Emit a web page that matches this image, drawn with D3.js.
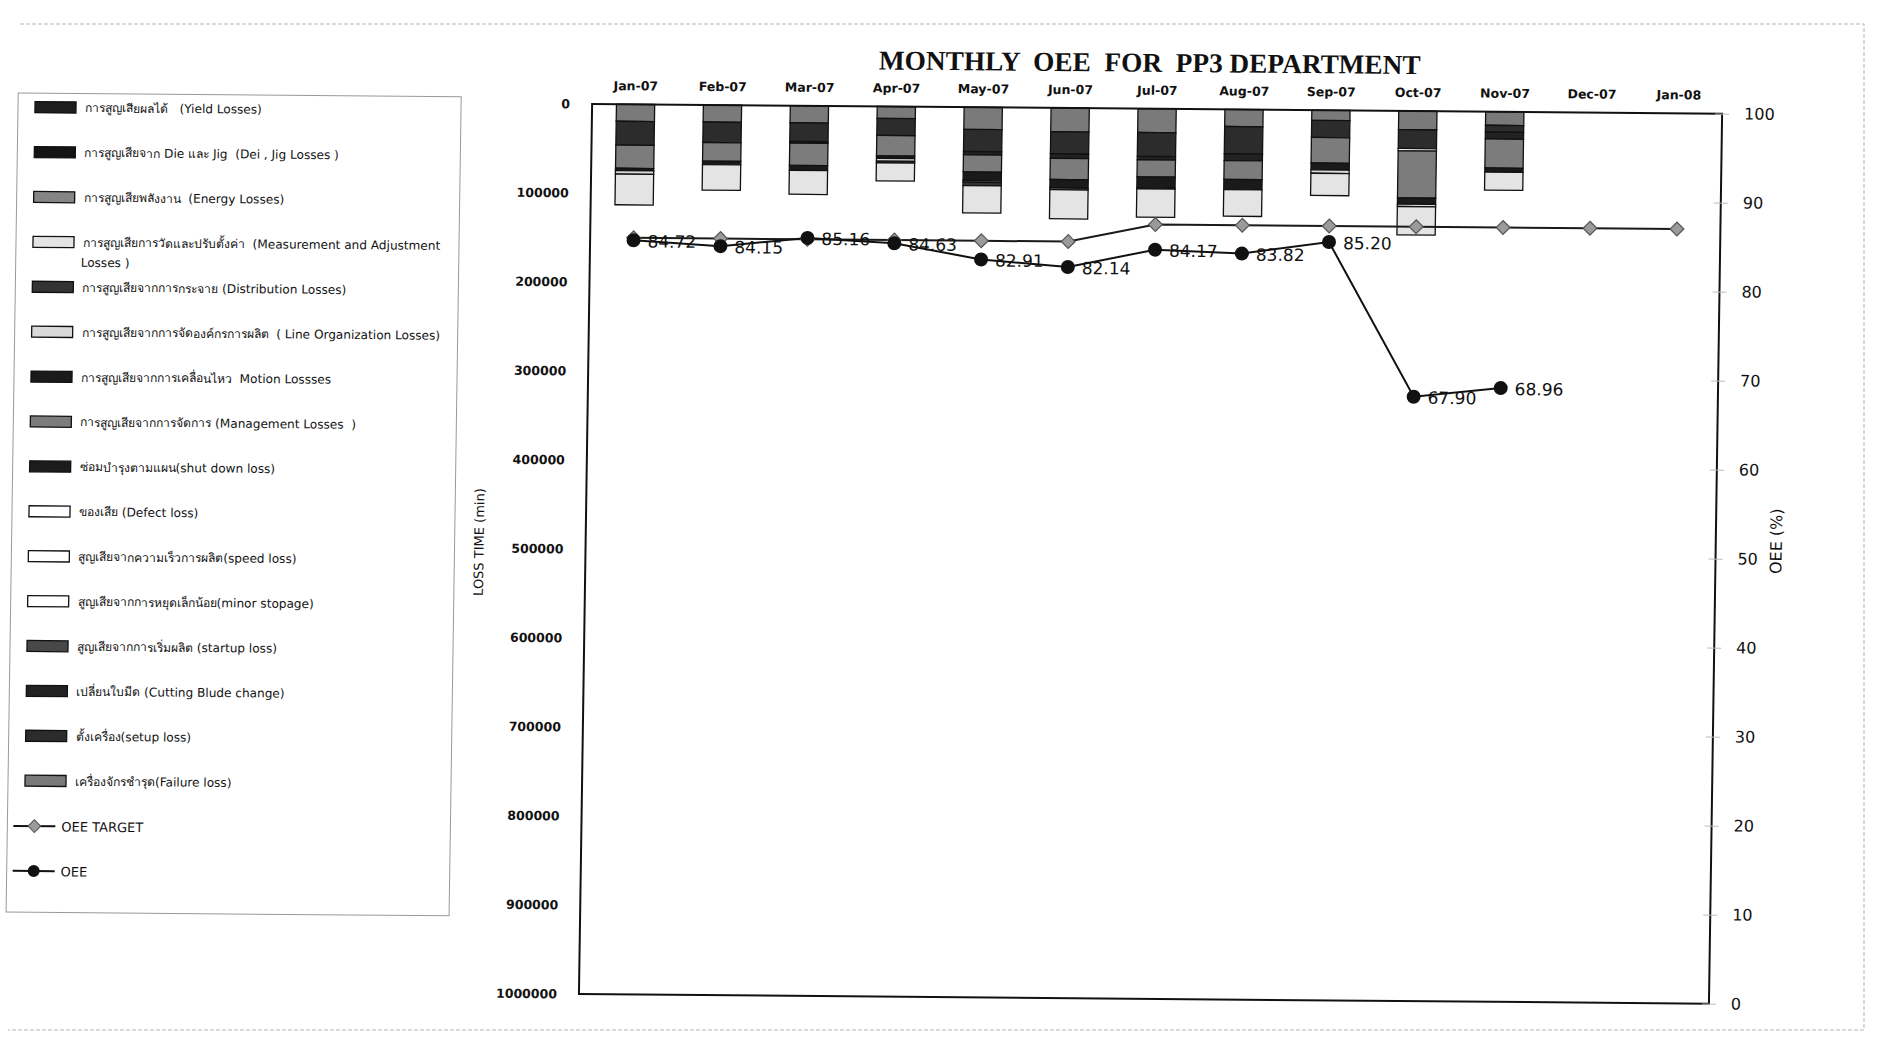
<!DOCTYPE html>
<html>
<head>
<meta charset="utf-8">
<script src="https://cdn.jsdelivr.net/npm/d3@7"></script>
<style>
  body { margin: 0; background: #fff; }
  svg { display: block; }
  .title { font-family: "Liberation Serif", "Times New Roman", serif; font-weight: bold; font-size: 27.3px; fill: #111; }
  .month-axis text, .loss-axis text { font-family: "DejaVu Sans", sans-serif; font-weight: bold; font-size: 12.5px; fill: #111; }
  .oee-axis text { font-family: "DejaVu Sans", sans-serif; font-size: 16px; fill: #111; }
  .axis-title { font-family: "DejaVu Sans", sans-serif; font-size: 13px; fill: #111; }
  .point-label { font-family: "DejaVu Sans", sans-serif; font-size: 17px; fill: #111; }
  .legend-text { font-family: "DejaVu Sans", "Noto Sans", sans-serif; font-size: 12.1px; fill: #111; }
</style>
</head>
<body>
<svg id="chart"></svg>
<script>
// categories
const months = ["Jan-07", "Feb-07", "Mar-07", "Apr-07", "May-07", "Jun-07", "Jul-07",
  "Aug-07", "Sep-07", "Oct-07", "Nov-07", "Dec-07", "Jan-08"];

// axis ticks
const lossTicks = [0, 100000, 200000, 300000, 400000, 500000, 600000, 700000, 800000, 900000, 1000000];
const oeeTicks = [0, 10, 20, 30, 40, 50, 60, 70, 80, 90, 100];

// legend labels (legend order, top to bottom)
const lossLabels = [
  "การสูญเสียผลได้   (Yield Losses)",
  "การสูญเสียจาก Die และ Jig  (Dei , Jig Losses )",
  "การสูญเสียพลังงาน  (Energy Losses)",
  "การสูญเสียการวัดและปรับตั้งค่า  (Measurement and Adjustment\nLosses )",
  "การสูญเสียจากการกระจาย (Distribution Losses)",
  "การสูญเสียจากการจัดองค์กรการผลิต  ( Line Organization Losses)",
  "การสูญเสียจากการเคลื่อนไหว  Motion Lossses",
  "การสูญเสียจากการจัดการ (Management Losses  )",
  "ซ่อมบำรุงตามแผน(shut down loss)",
  "ของเสีย (Defect loss)",
  "สูญเสียจากความเร็วการผลิต(speed loss)",
  "สูญเสียจากการหยุดเล็กน้อย(minor stopage)",
  "สูญเสียจากการเริ่มผลิต (startup loss)",
  "เปลี่ยนใบมีด (Cutting Blude change)",
  "ตั้งเครื่อง(setup loss)",
  "เครื่องจักรชำรุด(Failure loss)"
];
const lineLabels = ["OEE TARGET", "OEE"];

// loss time (min) per month, one array per loss type
const yieldLoss        = [0, 0, 0, 0, 0, 0, 0, 0, 0, 0, 0, 0, 0];
const dieJigLoss       = [0, 0, 0, 0, 0, 0, 0, 0, 0, 0, 0, 0, 0];
const energyLoss       = [0, 0, 0, 0, 0, 0, 0, 0, 0, 0, 0, 0, 0];
const measurementLoss  = [34500, 28700, 26800, 20300, 30600, 32600, 31800, 29900, 24900, 31800, 20300, 0, 0];
const distributionLoss = [0, 0, 0, 1900, 3800, 0, 0, 0, 0, 0, 0, 0, 0];
const lineOrgLoss      = [3800, 0, 0, 3100, 1900, 1900, 1100, 0, 3800, 2700, 0, 0, 0];
const motionLoss       = [2700, 3800, 5700, 2700, 9600, 9600, 12300, 11500, 7700, 6900, 4600, 0, 0];
const managementLoss   = [26000, 21000, 24900, 23000, 19200, 23700, 19200, 21100, 28700, 52900, 32600, 0, 0];
const shutdownLoss     = [0, 0, 0, 0, 0, 0, 0, 0, 0, 0, 0, 0, 0];
const defectLoss       = [0, 0, 0, 0, 0, 0, 0, 0, 0, 0, 0, 0, 0];
const speedLoss        = [0, 0, 0, 0, 0, 0, 0, 0, 0, 0, 0, 0, 0];
const minorStopLoss    = [0, 0, 0, 0, 0, 0, 0, 0, 0, 2700, 0, 0, 0];
const startupLoss      = [0, 0, 0, 0, 0, 0, 0, 0, 0, 0, 0, 0, 0];
const cuttingLoss      = [0, 0, 1900, 0, 3800, 5000, 3800, 7700, 0, 0, 7700, 0, 0];
const setupLoss        = [26800, 23000, 21000, 19200, 24900, 24900, 26800, 30600, 19200, 21100, 7700, 0, 0];
const failureLoss      = [19200, 19200, 19200, 13400, 24900, 26800, 26800, 19200, 11500, 21100, 15300, 0, 0];

// OEE (%)
const oeeTarget = [85, 85, 85, 85, 85, 85, 87, 87, 87, 87, 87, 87, 87];
const oeeActual = [84.72, 84.15, 85.16, 84.63, 82.91, 82.14, 84.17, 83.82, 85.20, 67.90, 68.96];

// fills, legend order
const lossColors = ["#1e1e1e", "#141414", "#858585", "#e4e4e4", "#333", "#d9d9d9", "#1a1a1a", "#7c7c7c",
  "#1c1c1c", "#fff", "#fff", "#fff", "#484848", "#222", "#2c2c2c", "#7a7a7a"];

class OeeChart {
  constructor(config) {
    this.config = {
      parentElement: config.parentElement,
      containerWidth: config.containerWidth || 1881,
      containerHeight: config.containerHeight || 1044,
      margin: config.margin || { top: 107, right: 165, bottom: 47, left: 586 },
    };
    this.initVis();
  }

  initVis() {
    const vis = this;
    vis.width = vis.config.containerWidth - vis.config.margin.left - vis.config.margin.right;
    vis.height = vis.config.containerHeight - vis.config.margin.top - vis.config.margin.bottom;

    vis.svg = d3.select(vis.config.parentElement)
      .attr("width", vis.config.containerWidth)
      .attr("height", vis.config.containerHeight);

    // faint page frame (outside the skewed scan)
    vis.svg.append("path")
      .attr("d", "M20,24H1864V1030H8")
      .attr("fill", "none")
      .attr("stroke", "#b5b5b5")
      .attr("stroke-dasharray", "4,2");

    // the scan is a little skewed: horizontals drop to the right, verticals lean right
    vis.root = vis.svg.append("g")
      .attr("transform", "translate(940,520) matrix(1,0.0086,-0.0148,1,0,0) translate(-940,-520)");

    vis.chart = vis.root.append("g")
      .attr("transform", `translate(${vis.config.margin.left},${vis.config.margin.top})`);

    vis.xScale = d3.scaleBand().domain(months).range([0, vis.width])
      .paddingInner(0.56).paddingOuter(0.28);
    vis.yLoss = d3.scaleLinear().domain([0, 1000000]).range([0, vis.height]); // reversed: 0 at top
    vis.yOee = d3.scaleLinear().domain([0, 100]).range([vis.height, 0]);

    vis.root.append("text")
      .attr("class", "title")
      .attr("x", vis.config.margin.left + vis.width / 2 - 8)
      .attr("y", 70)
      .attr("text-anchor", "middle")
      .attr("xml:space", "preserve")
      .text("MONTHLY  OEE  FOR  PP3 DEPARTMENT");

    vis.root.append("text")
      .attr("class", "axis-title")
      .attr("transform", "translate(484,546) rotate(-90)")
      .attr("text-anchor", "middle")
      .text("LOSS TIME (min)");

    vis.root.append("text")
      .attr("class", "axis-title")
      .style("font-size", "16px")
      .attr("transform", "translate(1782,534) rotate(-90)")
      .attr("text-anchor", "middle")
      .text("OEE (%)");

    vis.updateVis();
  }

  updateVis() {
    const vis = this;
    const lossArrays = [yieldLoss, dieJigLoss, energyLoss, measurementLoss, distributionLoss, lineOrgLoss,
      motionLoss, managementLoss, shutdownLoss, defectLoss, speedLoss, minorStopLoss, startupLoss,
      cuttingLoss, setupLoss, failureLoss];
    vis.keys = lossLabels.map((d, i) => "s" + i);
    vis.color = d3.scaleOrdinal().domain(vis.keys).range(lossColors);

    vis.rows = months.map((m, i) => {
      const row = { month: m };
      vis.keys.forEach((k, j) => (row[k] = lossArrays[j][i]));
      return row;
    });
    // failure loss sits next to the zero line, yield loss furthest away
    vis.stacked = d3.stack().keys(vis.keys.slice().reverse())(vis.rows);

    vis.renderVis();
  }

  renderVis() {
    const vis = this;
    const cx = (m) => vis.xScale(m) + vis.xScale.bandwidth() / 2;

    // stacked loss bars
    vis.chart.append("g").selectAll("g")
      .data(vis.stacked)
      .join("g")
      .attr("fill", (d) => vis.color(d.key))
      .selectAll("rect")
      .data((d) => d.filter((p) => p[1] - p[0] > 0))
      .join("rect")
      .attr("x", (d) => vis.xScale(d.data.month))
      .attr("width", vis.xScale.bandwidth())
      .attr("y", (d) => vis.yLoss(d[0]))
      .attr("height", (d) => vis.yLoss(d[1]) - vis.yLoss(d[0]))
      .attr("stroke", "#111")
      .attr("stroke-width", 1.3);

    // plot frame
    vis.chart.append("rect")
      .attr("width", vis.width)
      .attr("height", vis.height)
      .attr("fill", "none")
      .attr("stroke", "#111")
      .attr("stroke-width", 2);

    // axes
    const lossAxis = vis.chart.append("g").attr("class", "loss-axis")
      .call(d3.axisLeft(vis.yLoss).tickValues(lossTicks).tickSize(0).tickPadding(22).tickFormat(d3.format("d")));
    lossAxis.select(".domain").remove();

    const oeeAxis = vis.chart.append("g").attr("class", "oee-axis")
      .attr("transform", `translate(${vis.width},0)`)
      .call(d3.axisRight(vis.yOee).tickValues(oeeTicks).tickSize(7).tickPadding(15));
    oeeAxis.select(".domain").remove();
    oeeAxis.selectAll("line").attr("x1", -7).attr("stroke", "#bbb");

    const monthAxis = vis.chart.append("g").attr("class", "month-axis")
      .call(d3.axisTop(vis.xScale).tickSize(0).tickPadding(14));
    monthAxis.select(".domain").remove();

    // OEE target and actual lines
    const line = d3.line().x((d) => cx(d.month)).y((d) => vis.yOee(d.value));
    const targetData = oeeTarget.map((v, i) => ({ month: months[i], value: v }));
    const actualData = oeeActual.map((v, i) => ({ month: months[i], value: v }));

    vis.chart.append("path").datum(targetData)
      .attr("d", line).attr("fill", "none").attr("stroke", "#1a1a1a").attr("stroke-width", 2);
    vis.chart.append("path").datum(actualData)
      .attr("d", line).attr("fill", "none").attr("stroke", "#111").attr("stroke-width", 2);

    const diamond = d3.symbol(d3.symbolSquare, 95);
    vis.chart.append("g").selectAll("path")
      .data(targetData)
      .join("path")
      .attr("d", diamond)
      .attr("transform", (d) => `translate(${cx(d.month)},${vis.yOee(d.value)}) rotate(45)`)
      .attr("fill", "#9a9a9a")
      .attr("stroke", "#555")
      .attr("stroke-width", 1.2);

    vis.chart.append("g").selectAll("circle")
      .data(actualData)
      .join("circle")
      .attr("cx", (d) => cx(d.month))
      .attr("cy", (d) => vis.yOee(d.value))
      .attr("r", 7)
      .attr("fill", "#111");

    vis.chart.append("g").selectAll("text")
      .data(actualData)
      .join("text")
      .attr("class", "point-label")
      .attr("x", (d) => cx(d.month) + 14)
      .attr("y", (d) => vis.yOee(d.value) + 7)
      .text((d) => d.value.toFixed(2));

    vis.renderLegend();
  }

  renderLegend() {
    const vis = this;
    const legend = vis.root.append("g");
    const rowY = (i) => 115.5 + i * 44.9;

    legend.append("rect")
      .attr("x", 12).attr("y", 101).attr("width", 443).attr("height", 819)
      .attr("fill", "none").attr("stroke", "#999").attr("stroke-width", 1);

    const items = legend.selectAll("g.loss")
      .data(lossLabels)
      .join("g")
      .attr("class", "loss")
      .attr("transform", (d, i) => `translate(0,${rowY(i)})`);

    items.append("rect")
      .attr("x", 29).attr("y", -6).attr("width", 41).attr("height", 11)
      .attr("fill", (d, i) => lossColors[i])
      .attr("stroke", "#111").attr("stroke-width", 1.3);

    items.append("text")
      .attr("class", "legend-text")
      .attr("xml:space", "preserve")
      .attr("y", 4)
      .selectAll("tspan")
      .data((d) => d.split("\n"))
      .join("tspan")
      .attr("x", (d, i) => (i ? 77 : 79))
      .attr("dy", (d, i) => (i ? 20 : 0))
      .text((d) => d);

    const lineItems = legend.selectAll("g.line-item")
      .data(lineLabels)
      .join("g")
      .attr("class", "line-item")
      .attr("transform", (d, i) => `translate(0,${rowY(lossLabels.length + i)})`);

    lineItems.append("line")
      .attr("x1", 18).attr("x2", 60)
      .attr("stroke", "#111").attr("stroke-width", 2);

    lineItems.filter((d, i) => i === 0).append("path")
      .attr("d", d3.symbol(d3.symbolSquare, 80))
      .attr("transform", "translate(39,0) rotate(45)")
      .attr("fill", "#9a9a9a").attr("stroke", "#555");

    lineItems.filter((d, i) => i === 1).append("circle")
      .attr("cx", 39).attr("r", 6).attr("fill", "#111");

    lineItems.append("text")
      .attr("class", "legend-text")
      .style("font-size", "13px")
      .attr("x", 66).attr("y", 5)
      .text((d) => d);
  }
}

new OeeChart({ parentElement: "#chart" });
</script>
</body>
</html>
